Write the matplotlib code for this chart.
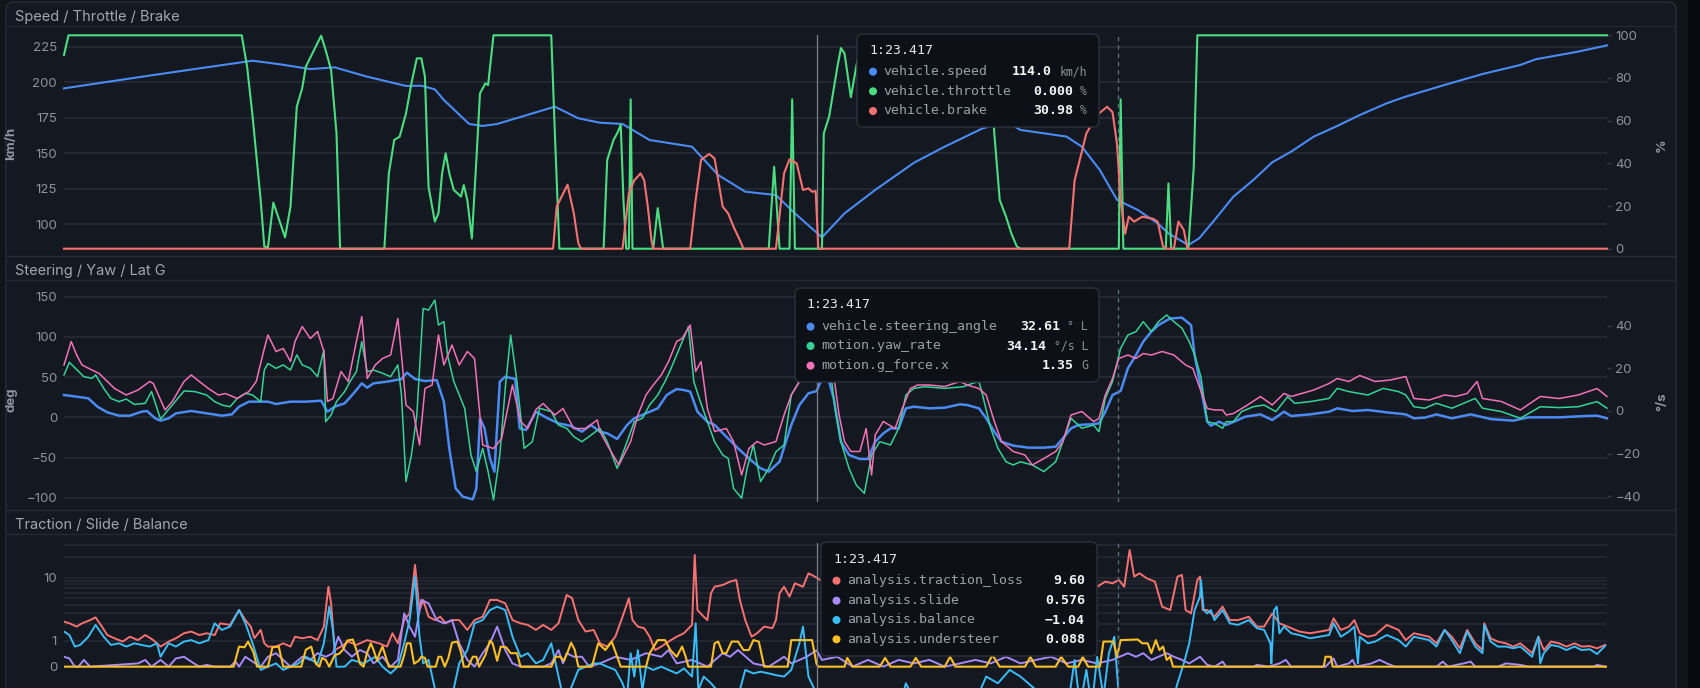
import matplotlib
matplotlib.use("Agg")
from matplotlib import pyplot as plt
from matplotlib.patches import FancyBboxPatch, Circle, Rectangle
from matplotlib.ticker import NullFormatter

plt.rcParams['font.family'] = ['Inter', 'DejaVu Sans']

# ---- lap telemetry, time in seconds ----
speed_pts = [(0, 195.6), (9.9, 205.0), (20.9, 215.1), (24.0, 212.5), (27.3, 209.2), (30.0, 210.4),
             (33.5, 204.0), (37.9, 197.3), (39.6, 197.5), (41.1, 194.9), (42.1, 187.4), (44.9, 170.5),
             (46.4, 169.1), (48.0, 170.5), (54.4, 182.7), (57.0, 174.5), (59.4, 171.4), (61.9, 170.5),
             (64.9, 159.2), (69.6, 154.5), (72.5, 134.5), (75.5, 122.8), (78.9, 120.4), (81.0, 107.5),
             (84.0, 90.6), (86.5, 107.5), (89.9, 124.0), (94.2, 143.2), (97.6, 154.5), (101.8, 167.4),
             (104.5, 172.0), (106.0, 166.3), (111.1, 161.6), (112.8, 154.5), (114.8, 138.0), (116.7, 117.0),
             (119.0, 109.9), (121.2, 100.5), (122.4, 93.4), (124.6, 85.2), (125.8, 89.9), (127.5, 102.8),
             (129.6, 119.3), (131.8, 131.0), (133.9, 143.5), (136.0, 151.0), (138.5, 161.6), (141.1, 169.1),
             (143.6, 176.8), (146.6, 185.1), (148.7, 189.8), (153.0, 198.0), (157.2, 205.7), (161.4, 212.1),
             (163.1, 216.1), (167.8, 221.5), (171.0, 225.9)]

throttle_pts = [(0, 90.8), (0.5, 100), (19.7, 100), (20.3, 85), (20.9, 62), (21.8, 22.6), (22.2, 1), (22.6, 0.6),
                (23.2, 21.6), (23.6, 16.6), (24.5, 5.3), (25.1, 19.7), (25.8, 66.6), (26.4, 75.2), (26.8, 85.3),
                (27.7, 93), (28.5, 99.8), (29.0, 93), (29.6, 83.7), (30.2, 54), (30.6, 0), (35.5, 0), (36.0, 35.3),
                (36.6, 51), (37.2, 52.5), (37.9, 63.4), (38.5, 77.5), (39.1, 89.2), (39.6, 89.2), (40.0, 80.6),
                (40.4, 29), (41.1, 12.7), (41.5, 16.6), (41.9, 35.3), (42.3, 44.7), (42.7, 35.3), (43.2, 27.5),
                (43.6, 26), (44.0, 24.4), (44.3, 29.8), (44.7, 22.8), (45.2, 4.8), (45.7, 41.6), (46.1, 72.8),
                (46.7, 77.5), (47.0, 76.7), (47.3, 88.4), (47.6, 100), (54.0, 100), (54.4, 54), (54.9, 0),
                (59.8, 0), (60.2, 41.6), (60.9, 51), (61.3, 54), (61.7, 58), (62.0, 22.8), (62.3, 0),
                (62.6, 0), (62.8, 70), (63.0, 0), (65.3, 0), (65.8, 19), (66.4, 0), (78.1, 0), (78.7, 38.4),
                (79.3, 0), (80.4, 0), (80.7, 70), (81.0, 0), (84.0, 0), (84.2, 54), (84.8, 62), (85.7, 85),
                (86.1, 94), (86.5, 91.5), (87.2, 71), (87.8, 85.3), (88.5, 100), (102.5, 100), (103.1, 54),
                (103.7, 22.8), (104.4, 15), (105.0, 7), (105.6, 1), (106.0, 0), (116.9, 0), (117.1, 70),
                (117.4, 0), (122.1, 0), (122.4, 30.6), (122.7, 0), (124.6, 0), (125.2, 38), (125.6, 100),
                (171.0, 100)]

brake_pts = [(0, 0), (54.2, 0), (54.6, 19.7), (55.8, 30), (56.5, 16.6), (57.0, 2.5), (57.3, 0), (61.9, 0),
             (62.6, 26), (63.2, 32), (63.9, 35.3), (64.3, 32), (64.7, 19.7), (65.1, 4), (65.3, 0), (69.4, 0),
             (70.0, 22.8), (70.6, 41.6), (71.5, 44.4), (72.1, 42.3), (72.5, 32.2), (73.0, 19.7), (73.6, 16.6),
             (74.2, 10.3), (74.9, 4), (75.3, 0), (78.9, 0), (79.8, 35.3), (80.4, 41.9), (81.2, 40), (81.9, 27.5),
             (82.5, 28.3), (82.9, 26.7), (83.3, 27), (83.6, 0), (111.4, 0), (112.0, 32), (113.3, 54),
             (114.5, 62.7), (115.6, 66.5), (116.2, 64), (116.7, 49), (117.1, 22.8), (117.6, 7), (118.0, 15),
             (118.6, 12.7), (119.5, 15), (120.7, 14), (121.2, 12.7), (121.8, 1), (122.2, 0), (123.0, 0),
             (123.5, 12.7), (124.1, 8.8), (124.5, 0), (171.0, 0)]

steer_pts = [(0.0, 27.8), (1.4, 25.7), (2.7, 23.6), (3.7, 13.3), (4.8, 6.2), (6.1, 2.1), (7.3, 2.1), (8.6, 7.0),
             (9.2, 7.9), (10.1, -1.2), (10.7, -4.1), (11.6, -1.2), (12.4, 5.0), (14.1, 7.9), (15.8, 5.0),
             (17.5, 2.1), (18.6, 3.7), (19.4, 13.3), (20.5, 19.5), (22.6, 19.5), (23.5, 16.6), (25.1, 19.5),
             (26.8, 19.5), (28.5, 20.7), (29.2, 7.0), (30.0, 13.3), (31.1, 17.4), (32.1, 29.9), (33.0, 42.3),
             (33.6, 36.9), (34.3, 42.3), (35.8, 44.4), (37.4, 47.7), (38.0, 55.6), (38.9, 47.7), (40.0, 45.2),
             (41.3, 46.4), (42.1, 19.5), (42.7, -38.6), (43.4, -88.3), (44.2, -98.7), (45.3, -102.0),
             (45.7, -88.3), (46.1, -1.2), (46.6, -13.7), (47.2, -51.0), (47.7, -67.6), (48.3, 44.4),
             (48.9, 50.6), (50.0, 47.7), (50.5, -13.7), (51.2, -15.8), (52.3, 7.0), (53.6, -1.2), (54.8, -7.5),
             (56.1, -10.4), (57.4, -17.8), (58.4, -9.5), (59.4, -18.0), (60.2, -19.9), (61.3, -26.9),
             (62.4, -9.5), (63.2, -1.2), (64.9, 7.0), (65.8, 11.2), (66.8, 27.8), (67.9, 35.2), (68.7, 34.0),
             (69.4, 31.9), (70.2, 7.0), (71.3, -5.4), (72.1, -9.5), (73.4, -24.0), (74.7, -38.6), (75.9, -51.0),
             (77.2, -63.4), (78.1, -67.6), (79.3, -55.1), (80.6, -9.5), (81.5, 15.3), (82.5, 29.9), (83.4, 32.6),
             (84.0, 48.5), (84.6, 52.7), (85.3, 23.6), (86.1, -30.3), (87.0, -46.8), (88.2, -51.8), (89.1, -51.8),
             (89.9, -30.3), (90.8, -19.9), (91.6, -13.7), (92.5, -13.7), (93.3, 11.2), (94.2, 13.3), (95.9, 11.2),
             (97.6, 12.0), (99.3, 16.2), (100.1, 15.3), (101.4, 11.2), (102.2, -1.2), (103.1, -17.8),
             (103.9, -30.3), (105.2, -35.2), (106.9, -37.7), (108.6, -37.7), (109.9, -36.5), (110.7, -26.1),
             (111.6, -13.7), (112.4, -9.5), (113.7, -8.7), (114.7, -7.5), (115.4, 7.0), (116.2, 27.8),
             (117.1, 32.8), (117.9, 60.9), (118.8, 77.5), (119.6, 94.1), (120.5, 106.6), (121.3, 114.8),
             (122.6, 123.1), (123.9, 124.0), (124.9, 114.8), (125.3, 77.5), (126.0, 36.1), (126.7, -5.4),
             (127.1, -10.4), (128.0, -5.4), (128.8, -9.5), (130.1, -3.3), (130.9, 0.8), (132.6, 3.7),
             (133.9, -3.3), (135.2, 7.0), (136.0, 1.7), (138.1, 3.7), (140.2, 7.0), (141.1, 11.2), (142.8, 7.9),
             (144.5, 9.1), (146.6, 6.2), (148.7, 3.7), (149.6, -1.2), (150.8, -0.4), (152.1, 3.7), (153.8, -1.2),
             (155.9, 3.7), (158.1, -2.1), (160.6, -4.1), (162.3, 0.0), (165.7, 0.0), (168.7, 1.7), (169.9, 2.1),
             (171.0, -1.2)]

yaw_pts = [(0.0, 16.9), (0.6, 22.8), (2.2, 16.1), (3.1, 15.3), (3.5, 16.9), (4.4, 10.6), (5.2, 5.9), (6.1, 4.4),
           (6.9, 5.6), (7.8, 3.1), (9.0, 3.6), (9.7, 9.1), (10.7, -3.8), (12.0, 2.8), (13.3, 9.4), (14.5, 9.1),
           (15.8, 7.5), (16.7, 4.4), (17.5, 2.8), (18.4, 2.0), (19.2, 5.9), (20.1, 8.3), (20.9, 7.5), (21.8, 4.4),
           (22.2, 19.2), (22.6, 22.3), (23.5, 20.0), (24.3, 21.6), (25.1, 19.2), (25.8, 26.3), (26.4, 21.6),
           (27.3, 20.0), (28.1, 16.1), (28.8, 28.6), (29.0, -5.0), (29.6, -1.9), (30.2, 4.4), (31.1, 9.1),
           (31.7, 13.8), (32.4, 18.4), (33.0, 32.5), (33.6, 18.4), (34.3, 19.2), (35.3, 17.7), (36.2, 16.1),
           (37.0, 21.6), (37.4, 7.5), (37.9, -33.1), (38.5, -20.6), (39.1, -1.9), (39.8, 48.1), (40.4, 47.3),
           (41.1, 52.0), (41.5, 40.3), (42.1, 41.9), (42.5, 26.3), (43.2, 13.8), (43.8, 7.5), (44.4, 1.3),
           (45.1, -20.6), (45.7, -28.4), (46.4, -17.5), (47.0, -28.4), (47.6, -41.7), (48.3, -20.6), (48.9, 10.6),
           (49.5, 35.6), (50.2, 13.8), (51.0, -17.5), (51.9, -14.4), (52.7, 1.3), (54.0, -0.3), (54.8, -6.6),
           (55.7, -8.1), (56.5, -12.0), (57.4, -14.4), (58.4, -11.3), (59.4, -8.1), (60.2, -14.4), (61.3, -26.9),
           (62.4, -14.4), (63.2, -5.0), (64.1, -3.4), (64.9, 2.8), (65.8, 7.5), (66.6, 13.8), (67.2, 19.2),
           (67.9, 26.3), (68.5, 32.5), (69.2, 39.5), (69.8, 13.8), (70.4, 5.9), (71.3, -5.0), (72.1, -14.4),
           (73.0, -20.6), (73.6, -22.2), (74.2, -36.3), (75.1, -40.9), (75.7, -26.9), (76.4, -15.9), (77.2, -33.1),
           (78.1, -26.9), (78.9, -19.1), (79.8, -15.9), (80.6, 7.5), (81.5, 13.8), (82.5, 26.3), (83.4, 34.1),
           (84.2, 38.8), (84.8, 23.1), (85.5, -0.3), (86.1, -14.4), (87.0, -26.9), (87.8, -34.7), (88.7, -38.6),
           (89.5, -20.6), (90.4, -14.4), (91.6, -15.9), (92.5, -8.1), (93.3, 7.5), (94.2, 10.6), (95.4, 11.4),
           (97.6, 10.6), (99.7, 11.4), (100.7, 13.0), (101.4, 13.8), (101.8, 7.5), (102.7, -8.1), (103.5, -17.5),
           (104.4, -23.8), (105.2, -25.3), (106.0, -23.8), (107.3, -25.3), (108.6, -28.4), (109.9, -23.8),
           (110.7, -14.4), (111.6, -3.4), (112.8, -8.1), (114.1, -6.6), (114.7, -9.7), (115.4, 5.9), (116.2, 13.8),
           (117.1, 29.4), (117.9, 35.6), (118.8, 37.2), (119.6, 41.9), (120.5, 37.2), (121.3, 41.9), (122.2, 45.0),
           (123.0, 41.9), (123.9, 38.8), (124.7, 32.5), (125.3, 26.3), (126.0, 16.0), (126.7, -5.0), (127.5, -5.8),
           (128.4, -8.1), (128.8, -5.0), (129.6, -5.0), (130.5, -0.3), (131.8, 2.0), (133.0, 2.8), (134.3, -0.3),
           (135.6, 6.7), (136.4, 3.6), (138.1, 4.4), (140.2, 5.9), (141.1, 10.6), (142.4, 9.1), (144.5, 7.5),
           (146.2, 10.6), (147.9, 9.1), (148.7, 7.5), (149.6, 2.0), (150.8, 1.3), (152.1, 3.6), (153.8, 1.3),
           (156.4, 5.9), (157.2, 1.3), (159.3, -0.3), (161.4, -3.4), (163.6, 2.0), (165.7, 1.6), (167.8, 2.0),
           (169.9, 4.4), (171.0, 1.3)]

gforce_pts = [(0.0, 0.92), (0.8, 1.39), (1.4, 1.12), (2.0, 0.92), (3.1, 0.82), (3.9, 0.75), (4.8, 0.59),
              (5.6, 0.45), (6.9, 0.32), (8.2, 0.42), (9.5, 0.59), (9.9, 0.55), (11.2, 0.02), (12.0, 0.19),
              (13.3, 0.59), (14.1, 0.72), (15.0, 0.59), (16.0, 0.45), (17.1, 0.32), (17.9, 0.35), (19.2, 0.25),
              (20.5, 0.39), (21.3, 0.59), (22.2, 1.25), (22.6, 1.52), (23.5, 1.19), (24.3, 1.25), (25.1, 0.99),
              (25.6, 1.39), (26.4, 1.69), (27.3, 1.45), (28.1, 1.59), (28.8, 1.19), (29.2, 0.19), (29.8, 0.25),
              (30.7, 0.79), (31.5, 0.59), (32.4, 1.39), (33.0, 1.89), (33.6, 0.65), (34.5, 0.92), (35.3, 1.05),
              (36.2, 1.12), (37.0, 1.85), (37.4, 1.12), (37.9, 0.12), (38.7, -0.01), (39.4, -0.68), (40.0, 0.45),
              (40.8, 0.52), (41.5, 1.52), (42.1, 0.92), (43.0, 1.32), (43.8, 0.92), (44.7, 1.19), (45.5, 1.05),
              (46.4, -0.68), (47.6, -0.75), (48.5, -0.55), (49.7, 0.52), (50.6, -0.21), (51.4, -0.35), (52.3, 0.03),
              (53.1, 0.15), (54.4, -0.08), (55.3, 0.05), (56.5, -0.35), (57.8, -0.35), (59.1, -0.18), (59.4, -0.41),
              (60.2, -0.68), (61.5, -1.08), (62.8, -0.61), (63.6, -0.08), (64.5, 0.32), (65.3, 0.52), (66.2, 0.72),
              (67.0, 0.99), (67.9, 1.39), (68.5, 1.45), (69.4, 1.72), (70.0, 0.79), (70.6, 0.99), (71.3, 0.05),
              (72.1, -0.41), (73.4, -0.35), (74.2, -0.61), (75.1, -1.28), (75.9, -0.75), (76.8, -0.61),
              (77.6, -0.68), (78.9, -0.61), (79.8, -0.08), (80.6, 0.32), (81.5, 0.59), (82.5, 0.99), (83.4, 1.35),
              (84.2, 1.45), (85.3, 0.72), (85.9, -0.08), (86.5, -0.61), (87.2, -0.81), (88.2, -0.81), (88.9, -0.35),
              (89.5, -1.28), (89.9, -0.48), (90.8, -0.21), (92.1, -0.35), (92.9, 0.05), (93.8, 0.45), (94.6, 0.52),
              (95.9, 0.52), (97.6, 0.49), (99.3, 0.59), (100.1, 0.52), (101.4, 0.45), (102.2, 0.32), (103.1, -0.21),
              (103.9, -0.61), (105.2, -0.81), (106.5, -0.88), (107.3, -1.08), (108.6, -0.95), (109.9, -0.81),
              (110.7, -0.61), (111.6, -0.08), (112.8, -0.01), (114.1, -0.21), (114.7, -0.15), (115.4, 0.32),
              (116.2, 0.65), (116.9, 1.05), (117.9, 1.12), (118.8, 1.05), (119.6, 1.15), (120.5, 1.12), (121.7, 1.19),
              (123.0, 1.12), (124.3, 0.92), (125.1, 0.85), (125.9, 0.45), (126.7, 0.05), (127.5, 0.02), (128.4, 0.02),
              (128.8, -0.08), (129.6, -0.05), (130.9, 0.09), (132.6, 0.29), (133.9, 0.12), (135.2, 0.35),
              (136.0, 0.29), (138.5, 0.42), (140.2, 0.55), (141.1, 0.65), (142.4, 0.59), (143.6, 0.71), (145.3, 0.59),
              (147.0, 0.62), (148.7, 0.69), (149.6, 0.25), (151.3, 0.22), (153.0, 0.32), (154.2, 0.29), (155.5, 0.35),
              (156.6, 0.59), (157.2, 0.25), (159.3, 0.19), (161.4, 0.02), (163.6, 0.29), (165.7, 0.25), (167.8, 0.32),
              (169.9, 0.45), (171.0, 0.29)]

traction_pts = [(0.0, 2.17), (0.6, 2.04), (1.4, 1.80), (2.0, 2.04), (2.9, 2.30), (3.5, 2.54), (4.2, 1.80),
                (4.8, 1.28), (5.6, 1.11), (6.5, 0.95), (7.3, 1.19), (8.2, 1.02), (9.0, 1.28), (9.9, 1.02),
                (10.7, 0.73), (11.6, 0.95), (12.4, 1.11), (13.3, 1.38), (14.1, 1.48), (15.0, 1.28), (15.8, 1.38),
                (16.7, 1.28), (17.3, 2.04), (18.4, 1.92), (19.4, 3.30), (20.1, 2.30), (20.7, 1.80), (21.1, 1.11),
                (21.8, 1.58), (22.2, 0.87), (22.6, 0.73), (23.5, 0.73), (24.3, 0.87), (25.1, 0.73), (25.6, 1.19),
                (26.4, 1.11), (27.3, 1.19), (28.1, 1.02), (28.8, 1.80), (29.3, 7.38), (29.6, 4.17), (30.0, 0.59),
                (30.7, 0.73), (31.5, 0.95), (32.4, 0.80), (33.6, 1.02), (34.9, 0.87), (35.8, 0.73), (36.4, 1.38),
                (37.0, 0.87), (37.7, 2.30), (38.3, 2.93), (38.9, 15.4), (39.4, 3.30), (39.8, 4.68), (40.4, 2.60),
                (41.1, 2.30), (41.7, 2.60), (42.3, 2.04), (43.0, 2.30), (43.8, 2.30), (44.7, 1.58), (45.5, 2.30),
                (46.4, 2.60), (47.2, 4.68), (48.0, 4.68), (48.9, 4.17), (49.7, 2.30), (50.6, 2.04), (51.4, 1.92),
                (52.3, 1.58), (53.1, 1.92), (54.0, 1.58), (54.8, 2.04), (55.7, 5.56), (56.3, 5.0), (57.0, 2.30),
                (57.8, 1.48), (58.7, 1.58), (59.4, 0.87), (60.2, 0.73), (61.1, 1.19), (61.9, 2.60), (62.6, 4.95),
                (63.0, 2.30), (63.6, 1.80), (64.3, 1.69), (64.9, 1.19), (65.5, 0.59), (66.2, 0.73), (67.0, 0.95),
                (67.9, 1.19), (68.7, 1.38), (69.6, 1.92), (69.9, 21.6), (70.2, 3.30), (70.9, 2.60), (71.3, 2.30),
                (71.7, 5.88), (72.1, 7.38), (73.0, 7.8), (73.8, 8.75), (74.5, 9.26), (74.9, 4.68), (75.5, 2.30),
                (76.2, 1.19), (76.8, 1.38), (77.6, 1.80), (78.5, 1.69), (78.9, 2.30), (79.3, 5.88), (79.8, 7.38),
                (80.4, 5.25), (81.0, 8.27), (81.9, 7.38), (82.5, 11.6), (83.2, 10.4), (83.8, 9.26), (84.8, 8.27),
                (89.1, 5.88), (93.3, 7.38), (97.6, 4.68), (101.8, 6.59), (106.0, 5.25), (110.3, 7.38), (114.5, 7.38),
                (115.4, 8.75), (116.2, 8.27), (116.9, 9.26), (117.5, 7.38), (118.1, 25.5), (118.6, 10.4),
                (119.2, 11.6), (120.0, 9.8), (120.9, 8.75), (121.7, 3.71), (122.6, 3.30), (123.4, 10.4),
                (123.9, 11.0), (124.3, 3.30), (124.9, 2.93), (125.6, 9.26), (125.9, 10.4), (126.2, 3.30),
                (126.7, 3.30), (127.5, 2.60), (128.4, 3.71), (129.2, 2.30), (130.1, 2.30), (131.3, 2.60),
                (132.2, 1.80), (133.0, 1.80), (133.9, 2.93), (134.7, 2.04), (135.6, 1.80), (136.9, 1.48),
                (138.1, 1.38), (140.2, 1.58), (140.7, 2.45), (141.5, 1.58), (142.4, 1.80), (143.0, 2.30),
                (143.6, 1.38), (144.5, 1.19), (145.3, 1.28), (146.6, 1.92), (147.9, 1.58), (148.7, 1.02),
                (149.6, 1.38), (151.3, 1.19), (152.1, 0.87), (153.0, 1.58), (153.8, 1.19), (154.7, 0.66),
                (155.5, 1.58), (156.4, 0.87), (157.2, 0.59), (157.4, 2.04), (158.1, 1.11), (158.9, 0.95),
                (159.8, 0.87), (160.6, 0.73), (161.4, 0.87), (162.7, 0.47), (163.4, 1.19), (164.0, 0.59),
                (164.8, 0.95), (165.7, 0.87), (166.5, 0.73), (167.4, 0.87), (168.2, 0.73), (169.1, 0.75),
                (169.9, 0.66), (170.8, 0.80)]

slide_pts = [(0.0, 0.34), (0.6, 0.28), (1.2, 0.0), (1.6, 0.0), (2.2, 0.23), (2.9, 0.0), (8.2, 0.11), (9.0, 0.23),
             (9.7, 0.0), (10.7, 0.23), (11.6, 0.0), (12.4, 0.28), (13.3, 0.34), (14.1, 0.17), (15.0, 0.0),
             (15.8, 0.06), (16.7, 0.0), (18.4, 0.0), (19.0, 0.17), (19.4, 0.0), (20.1, 0.34), (20.9, 0.17),
             (21.8, 0.0), (22.6, 0.34), (23.5, 0.47), (24.3, 0.23), (25.1, 0.0), (26.4, 0.34), (27.3, 0.23),
             (28.1, 0.47), (29.0, 0.34), (29.8, 0.47), (30.4, 1.19), (31.1, 0.59), (31.9, 0.34), (32.8, 0.59),
             (33.6, 0.47), (34.3, 0.11), (35.3, 0.34), (36.2, 0.0), (37.0, 0.23), (37.7, 2.93), (38.3, 1.80),
             (38.9, 1.19), (39.6, 4.68), (40.4, 4.17), (41.3, 2.30), (42.1, 2.04), (43.0, 2.30), (43.8, 0.87),
             (44.7, 0.23), (45.5, 0.0), (46.4, 0.47), (47.2, 0.87), (48.0, 1.80), (48.9, 0.59), (49.7, 0.11),
             (50.6, 0.0), (53.1, 0.0), (54.0, 0.11), (54.8, 0.59), (55.3, 0.11), (55.7, 0.47), (56.5, 0.34),
             (57.4, 0.34), (58.2, 0.0), (59.4, 0.11), (61.1, 0.34), (62.8, 0.23), (64.5, 0.47), (66.2, 0.34),
             (67.0, 0.59), (67.9, 0.11), (69.6, 0.23), (71.3, 0.0), (73.0, 0.47), (73.8, 0.34), (74.7, 0.59),
             (76.4, 0.11), (78.1, 0.0), (79.8, 0.34), (80.6, 0.11), (82.3, 0.34), (83.4, 0.58), (84.0, 0.23),
             (85.7, 0.34), (87.4, 0.0), (89.1, 0.23), (90.8, 0.0), (92.5, 0.23), (94.2, 0.11), (95.9, 0.23),
             (97.6, 0.0), (99.3, 0.11), (101.0, 0.23), (102.7, 0.11), (104.4, 0.34), (106.0, 0.11), (107.7, 0.23),
             (109.4, 0.34), (111.1, 0.11), (112.8, 0.23), (114.5, 0.11), (116.2, 0.23), (117.9, 0.47),
             (118.8, 0.34), (119.6, 0.47), (120.5, 0.23), (122.2, 0.47), (123.0, 0.34), (123.9, 0.23),
             (124.7, 0.11), (125.9, 0.34), (126.7, 0.06), (127.5, 0.0), (128.4, 0.17), (128.8, 0.0), (131.8, 0.0),
             (132.2, 0.06), (133.5, 0.0), (134.7, 0.11), (135.4, 0.23), (136.0, 0.0), (139.8, 0.0), (140.7, 0.28),
             (141.1, 0.0), (142.4, 0.11), (142.8, 0.23), (143.2, 0.0), (144.9, 0.11), (145.8, 0.23), (146.6, 0.11),
             (147.5, 0.0), (152.1, 0.0), (152.8, 0.17), (153.4, 0.0), (155.1, 0.11), (155.9, 0.17), (156.4, 0.0),
             (158.9, 0.0), (159.8, 0.11), (161.4, 0.06), (162.3, 0.0), (169.5, 0.0), (169.9, 0.06), (170.8, 0.0)]

balance_pts = [(0.0, 1.48), (0.6, 1.28), (1.2, 0.73), (1.8, 0.80), (2.7, 1.19), (3.5, 1.92), (4.4, 1.19),
               (5.2, 0.80), (6.1, 0.87), (6.9, 0.73), (7.8, 0.87), (8.6, 0.80), (9.5, 0.73), (10.3, 0.87),
               (10.7, 0.34), (11.6, 0.87), (12.4, 0.73), (13.3, 0.95), (14.1, 1.02), (15.0, 0.87), (16.0, 1.02),
               (16.7, 2.04), (17.5, 1.58), (18.4, 1.80), (19.4, 3.30), (20.1, 2.04), (20.9, 0.87), (21.8, -0.11),
               (22.6, 0.0), (23.5, 0.11), (24.3, -0.11), (25.1, 0.0), (26.0, 0.11), (26.8, 0.34), (28.1, 0.11),
               (28.8, 0.87), (29.4, 3.71), (29.8, 1.58), (30.2, 0.0), (31.1, 0.0), (31.9, 0.23), (33.2, 0.11),
               (34.5, 0.34), (35.3, 0.0), (36.2, -0.23), (37.0, 0.0), (37.7, 0.87), (38.3, 2.30), (38.9, 10.4),
               (39.4, 1.19), (39.8, 0.11), (40.4, 0.23), (41.3, -1.19), (42.1, -0.87), (43.0, -1.19), (43.8, 0.11),
               (44.7, 0.59), (45.5, 2.04), (46.4, 2.30), (47.2, 3.30), (48.0, 3.71), (48.9, 3.30), (49.7, 1.19),
               (50.6, 0.34), (51.4, 0.47), (52.3, 0.11), (53.1, 0.23), (54.0, 0.87), (54.8, -0.34), (55.3, -1.19),
               (56.1, -0.87), (57.0, -0.11), (57.8, 0.0), (58.7, 0.11), (59.4, 0.11), (60.2, 0.0), (61.1, -0.11),
               (61.9, -0.59), (62.4, -1.19), (62.8, 0.47), (63.2, -0.34), (63.6, 0.59), (64.1, -0.87), (64.5, 0.0),
               (65.3, -0.11), (66.2, 0.0), (67.0, -0.11), (67.9, -0.23), (68.7, -0.06), (69.6, -0.34), (70.0, 2.04),
               (70.3, -0.87), (70.9, -0.34), (71.7, -0.59), (73.0, -1.19), (73.8, -0.87), (74.7, -1.19),
               (75.1, -0.59), (75.5, -0.11), (76.4, -0.23), (77.2, -0.17), (78.1, -0.23), (78.9, -0.29),
               (79.8, -0.34), (80.6, -0.11), (81.5, 0.87), (81.9, 1.80), (82.5, -0.34), (83.2, -0.87),
               (83.4, -1.04), (84.8, -1.79), (86.1, -0.87), (87.4, -2.07), (89.1, -1.79), (90.8, -1.46),
               (92.5, -2.07), (93.3, -0.59), (94.6, -1.79), (96.3, -2.52), (97.6, -1.79), (99.3, -2.07),
               (101.0, -1.46), (102.2, -0.34), (103.5, -0.59), (104.8, -0.11), (106.0, -0.34), (107.3, -0.73),
               (108.6, -1.19), (109.9, -1.79), (111.1, -2.52), (112.0, 0.23), (112.6, -1.79), (113.3, -0.11),
               (113.9, -1.79), (114.5, 0.34), (115.2, -1.19), (115.8, 0.47), (116.4, 1.19), (116.9, -1.19),
               (117.5, -1.79), (118.3, -1.79), (119.2, -1.46), (120.0, -2.07), (120.9, -1.79), (121.7, -1.19),
               (122.6, -2.07), (123.4, -0.59), (124.1, 0.11), (124.7, 0.87), (125.3, 3.30), (125.9, 5.25),
               (126.0, 9.26), (126.3, 3.30), (126.7, 2.93), (127.1, 3.30), (127.5, 2.30), (128.4, 3.30),
               (129.2, 2.04), (130.1, 1.92), (131.3, 2.30), (132.2, 1.69), (133.0, 1.58), (133.7, 0.87),
               (133.8, 0.11), (134.1, 3.30), (134.4, 3.71), (134.7, 1.38), (135.2, 1.80), (136.0, 1.38),
               (136.9, 1.28), (138.1, 1.11), (140.2, 1.28), (140.7, 2.04), (141.5, 1.19), (142.4, 1.48),
               (143.0, 1.80), (143.4, 0.11), (143.6, 1.19), (144.5, 0.87), (145.3, 0.95), (146.6, 1.28),
               (147.9, 1.02), (148.7, 0.73), (149.6, 1.19), (151.3, 1.02), (152.1, 0.73), (153.0, 1.58),
               (153.8, 1.02), (154.7, 0.47), (155.5, 1.48), (156.4, 0.73), (157.2, 0.47), (157.4, 1.92),
               (158.1, 0.95), (158.9, 0.73), (159.8, 0.73), (160.6, 0.66), (161.4, 0.73), (162.7, 0.34),
               (163.4, 1.19), (163.6, 0.11), (164.0, 0.47), (164.8, 0.80), (165.7, 0.73), (166.5, 0.59),
               (167.4, 0.73), (168.2, 0.59), (169.1, 0.62), (169.9, 0.44), (170.8, 0.76)]

understeer_pts = [(0, 0), (18.8, 0), (19.4, 0.73), (20.0, 0.7), (20.4, 0.95), (21.0, 0.5), (21.4, 0), (22.6, 0),
                  (23.1, 0.7), (23.8, 0.73), (24.3, 0), (26.3, 0), (26.8, 0.6), (27.4, 0.73), (27.9, 0.1),
                  (28.3, 0), (28.6, 0.3), (29.0, 0.23), (29.4, 0), (30.0, 0.4), (30.5, 0.45), (30.9, 0.6),
                  (31.4, 1.0), (32.0, 1.05), (32.4, 0.6), (32.8, 0.1), (33.2, 0), (33.6, 0.5), (34.0, 0.87),
                  (34.3, 0.6), (34.7, 0.2), (35.0, 0.5), (35.3, 0.73), (35.7, 0.3), (36.0, 0), (37.3, 0),
                  (37.7, 0.4), (38.0, 0.87), (38.4, 0.87), (38.8, 0.1), (39.3, 0.2), (39.6, 0.34), (40.0, 0.3),
                  (40.3, 0), (41.2, 0), (41.5, 0.34), (41.8, 0.34), (42.2, 0), (42.6, 0.3), (43.0, 0.9),
                  (43.6, 0.95), (44.0, 0.5), (44.3, 0), (44.8, 0), (45.3, 0.34), (45.7, 0.34), (46.0, 0),
                  (46.7, 0.4), (47.2, 1.0), (47.5, 0.87), (48.0, 0.2), (48.4, 0.73), (49.0, 0.7), (49.5, 0.47),
                  (50.2, 0.47), (50.6, 0), (54.0, 0), (54.5, 0.34), (55.0, 0.34), (55.4, 0.2), (55.8, 0.5),
                  (56.2, 0.9), (56.6, 0.6), (57.0, 0), (58.5, 0), (59.2, 0.87), (60.0, 0.59), (60.7, 0.95),
                  (61.3, 0.34), (61.7, 0), (64.5, 0), (64.9, 0.47), (65.8, 1.02), (66.6, 1.02), (67.2, 0.59),
                  (67.9, 0.34), (68.5, 0.73), (68.9, 0.34), (69.2, 0), (71.7, 0), (72.1, 0.87), (72.5, 0.95),
                  (73.0, 0.47), (73.4, 0.47), (74.0, 0.95), (74.7, 0.95), (75.3, 0.59), (75.9, 0.59), (76.4, 1.02),
                  (77.0, 0.95), (77.6, 0), (80.2, 0), (80.6, 1.02), (82.9, 1.02), (83.4, 0.09), (83.6, 0),
                  (86.5, 0), (86.8, 0.3), (87.4, 0), (90.4, 0), (91.0, 0.3), (91.6, 0), (93.8, 0), (94.4, 0.3),
                  (95.0, 0), (97.6, 0), (98.2, 0.34), (98.8, 0), (102.2, 0), (102.9, 0.4), (103.7, 0), (106.5, 0),
                  (107.1, 0.34), (107.7, 0), (109.9, 0), (110.5, 0.34), (111.3, 0), (112.4, 0), (112.9, 0.34),
                  (113.5, 0), (114.8, 0), (115.2, 0.95), (116.3, 0.95), (116.7, 0.34), (117.1, 1.02), (119.0, 1.05),
                  (119.5, 0.87), (120.1, 0.87), (120.5, 0.47), (121.0, 1.02), (121.4, 0.59), (121.8, 0.73),
                  (122.2, 0.23), (122.6, 0.34), (122.9, 0), (139.6, 0), (139.8, 0.34), (140.4, 0.34), (140.6, 0),
                  (171.0, 0)]

cursor_t = 83.417
marker_t = 116.8

# ---- layout (pixels of a 1700 x 688 canvas) ----
W, H = 1700, 688
BG = '#141821'
GRID = '#232833'
TICK = '#8d939d'


def rect(x0, y0, x1, y1):
    return [x0 / W, 1 - y1 / H, (x1 - x0) / W, (y1 - y0) / H]


def xy(pts):
    return [p[0] for p in pts], [p[1] for p in pts]


fig = plt.figure(figsize=(17, 6.88), dpi=100)
fig.patch.set_facecolor('#080a10')

bg = fig.add_axes([0, 0, 1, 1], zorder=-10)
bg.set_xlim(0, W)
bg.set_ylim(H, 0)
bg.axis('off')
bg.add_patch(Rectangle((0, 0), 1687, H, color='#10141b'))
bg.add_patch(FancyBboxPatch((6, 2), 1670, 720, boxstyle='round,pad=0,rounding_size=8',
                            fc=BG, ec='#272c37', lw=1))
for y in (256, 510):
    bg.plot([6, 1676], [y, y], color='#272c37', lw=1)
for y in (26, 279.5, 534):
    bg.plot([6, 1676], [y, y], color='#232833', lw=1)
titles = [(17, 'Speed / Throttle / Brake'), (271, 'Steering / Yaw / Lat G'), (525, 'Traction / Slide / Balance')]
for y, s in titles:
    bg.text(15, y, s, color='#a0a6b0', fontsize=10.5, va='center', ha='left')


def style(ax):
    ax.patch.set_visible(False)
    for sp in ax.spines.values():
        sp.set_visible(False)
    ax.set_xticks([])
    ax.set_xlim(0, 171.0)


# panel 1
ax1 = fig.add_axes(rect(64, 35.3, 1607, 248.7))
style(ax1)
ax1.set_ylim(82.6, 233.0)
ax1.set_yticks([100, 125, 150, 175, 200, 225])
ax1.grid(axis='y', color=GRID, lw=1.5)
ax1.tick_params(axis='y', length=0, pad=5, labelsize=9.5, labelcolor=TICK)
ax1r = ax1.twinx()
style(ax1r)
ax1r.set_ylim(0, 100)
ax1r.set_yticks([0, 20, 40, 60, 80, 100])
ax1r.tick_params(axis='y', length=3, width=1, color='#363c47', pad=3, labelsize=9.5, labelcolor=TICK)

t, v = xy(speed_pts)
ax1.plot(t, v, color='#4b8bf5', lw=1.5, clip_on=False, zorder=3)
t, v = xy(throttle_pts)
ax1r.plot(t, v, color='#4ade80', lw=1.5, clip_on=False, zorder=3)
t, v = xy(brake_pts)
ax1r.plot(t, v, color='#f87171', lw=1.5, clip_on=False, zorder=4)

# panel 2
ax2 = fig.add_axes(rect(64, 288, 1607, 502))
style(ax2)
ax2.set_ylim(-105.3, 160.9)
ax2.set_yticks([-100, -50, 0, 50, 100, 150])
ax2.grid(axis='y', color=GRID, lw=1.5)
ax2.tick_params(axis='y', length=0, pad=5, labelsize=9.5, labelcolor=TICK)
ax2r = ax2.twinx()
style(ax2r)
ax2r.set_ylim(-42.66, 57.66)
ax2r.set_yticks([-40, -20, 0, 20, 40])
ax2r.tick_params(axis='y', length=3, width=1, color='#363c47', pad=3, labelsize=9.5, labelcolor=TICK)
ax2g = ax2.twinx()
style(ax2g)
ax2g.set_ylim(-1.82, 2.46)
ax2g.set_yticks([])

t, v = xy(steer_pts)
ax2.plot(t, v, color='#4b8bf5', lw=1.8, clip_on=False)
t, v = xy(yaw_pts)
ax2r.plot(t, v, color='#34d399', lw=1.1, clip_on=False)
t, v = xy(gforce_pts)
ax2g.plot(t, v, color='#f472b6', lw=1.1, clip_on=False)

# panel 3 (asinh scale, runs past the bottom of the canvas)
ax3 = fig.add_axes(rect(64, 543, 1607, 757))
style(ax3)
ax3.set_yscale('asinh', linear_width=1)
ax3.set_ylim(-10.48, 32.3)
ax3.set_yticks([0, 1, 10])
ax3.set_yticklabels(['0', '1', '10'])
ax3.set_yticks([-10, -9, -8, -7, -6, -5, -4, -3, -2, -1, 2, 3, 4, 5, 6, 7, 8, 9, 20, 30], minor=True)
ax3.yaxis.set_minor_formatter(NullFormatter())
ax3.grid(axis='y', which='both', color=GRID, lw=1.2)
ax3.tick_params(axis='y', which='both', length=0, pad=5, labelsize=9.5, labelcolor=TICK)

t, v = xy(traction_pts)
ax3.plot(t, v, color='#f87171', lw=1.4)
t, v = xy(slide_pts)
ax3.plot(t, v, color='#a78bfa', lw=1.4)
t, v = xy(balance_pts)
ax3.plot(t, v, color='#38bdf8', lw=1.4)
t, v = xy(understeer_pts)
ax3.plot(t, v, color='#fbbf24', lw=1.5)

for ax in (ax1, ax2, ax3):
    ax.axvline(cursor_t, color='#7c828c', lw=0.9, zorder=6)
    ax.axvline(marker_t, color='#5f6c7a', lw=1.0, ls=(0, (3, 3)), zorder=6)

# ---- overlay: axis titles and tooltips ----
ov = fig.add_axes([0, 0, 1, 1], zorder=20)
ov.set_xlim(0, W)
ov.set_ylim(H, 0)
ov.axis('off')

for x, y, s in [(11.5, 143, 'km/h'), (1662, 145, '%'), (11.5, 400, 'deg'), (1662, 402, '°/s')]:
    ov.text(x, y, s, rotation=90, ha='center', va='center', fontsize=9.5,
            fontweight='bold', color='#8e959f')

MONO = 'DejaVu Sans Mono'


def tooltip(box, tpos, rows, dot_x, name_x, unit_right, row_y):
    x0, y0, x1, y1 = box
    ov.add_patch(FancyBboxPatch((x0, y0), x1 - x0, y1 - y0, boxstyle='round,pad=0,rounding_size=6',
                                fc='#0d1016', ec='#2b303a', lw=1))
    ov.text(tpos[0], tpos[1], '1:23.417', family=MONO, fontsize=9.5, color='#e4e6ea', va='center')
    for (name, val, unit, col), y in zip(rows, row_y):
        ov.add_patch(Circle((dot_x, y), 3.3, color=col))
        ov.text(name_x, y, name, family=MONO, fontsize=9.5, color='#9aa0a9', va='center')
        if unit:
            ov.text(unit_right, y, unit, family=MONO, fontsize=8.3, color='#8a909a', va='center', ha='right')
            vr = unit_right - len(unit) * 6.95 - 7
        else:
            vr = unit_right
        ov.text(vr, y, val, family=MONO, fontsize=9.5, fontweight='bold', color='#f1f3f5',
                va='center', ha='right')


tooltip((857, 34, 1099, 127), (869, 50),
        [('vehicle.speed', '114.0', 'km/h', '#4b8bf5'),
         ('vehicle.throttle', '0.000', '%', '#4ade80'),
         ('vehicle.brake', '30.98', '%', '#f87171')],
        873, 883, 1087, [71.7, 91.3, 111])
tooltip((795, 288, 1099, 382), (806.7, 305),
        [('vehicle.steering_angle', '32.61', '° L', '#4b8bf5'),
         ('motion.yaw_rate', '34.14', '°/s L', '#34d399'),
         ('motion.g_force.x', '1.35', 'G', '#f472b6')],
        810.5, 821, 1088, [326.7, 346, 365.7])
tooltip((821, 542, 1097, 656), (833.4, 559.3),
        [('analysis.traction_loss', '9.60', '', '#f87171'),
         ('analysis.slide', '0.576', '', '#a78bfa'),
         ('analysis.balance', '−1.04', '', '#38bdf8'),
         ('analysis.understeer', '0.088', '', '#fbbf24')],
        836.5, 847.6, 1085, [580.7, 600.7, 620, 639.3])

fig.savefig('out.png', dpi=100, facecolor=fig.get_facecolor())
